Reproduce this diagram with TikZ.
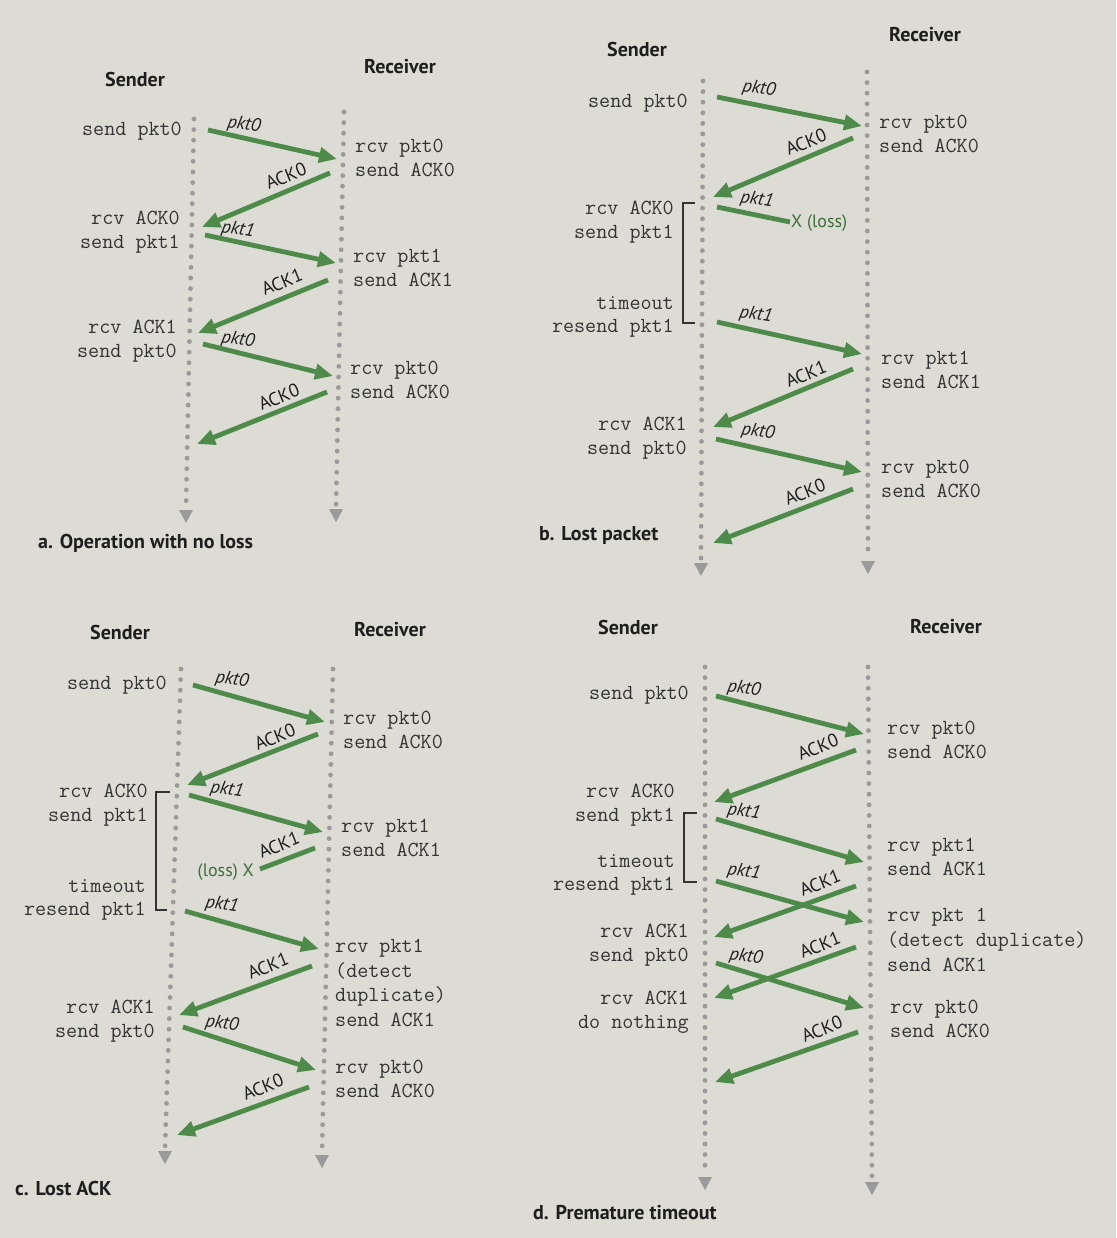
\documentclass[tikz,border=0pt]{standalone}
\usepackage{fontspec}
\newfontfamily\ptsans{PT Sans}
\usetikzlibrary{arrows.meta,calc}
\definecolor{paper}{HTML}{DCDBD4}
\definecolor{msggreen}{HTML}{4E8B4A}
\definecolor{dotgray}{HTML}{9A9A9A}
\definecolor{ink}{HTML}{333333}
\definecolor{darkink}{HTML}{1E1E1E}
\tikzset{
  life/.style={draw=dotgray,line width=4.8pt,line cap=round,dash pattern=on 0pt off 10.6pt},
  msg/.style={draw=msggreen,line width=4.8pt,-{Triangle[length=18pt,width=15pt]}},
  lostmsg/.style={draw=msggreen,line width=4.8pt},
  mono/.style={font=\ttfamily\fontsize{21.5}{23.5}\selectfont,text=ink,inner sep=0pt},
  snd/.style={mono,anchor=east,align=right},
  rcv/.style={mono,anchor=west,align=left},
  hdr/.style={font=\ptsans\bfseries\fontsize{20}{22}\selectfont,text=darkink},
  plab/.style={font=\ptsans\itshape\fontsize{18.5}{20}\selectfont,text=darkink,rotate=-9,inner sep=0pt},
  alab/.style={font=\ptsans\fontsize{18.5}{20}\selectfont,text=darkink,rotate=22,inner sep=0pt},
  losslab/.style={font=\ptsans\fontsize{18}{20}\selectfont,text=msggreen!80!black,inner sep=0pt},
  capt/.style={font=\ptsans\bfseries\fontsize{20}{22}\selectfont,text=darkink,anchor=west,inner sep=0pt},
  brk/.style={draw=ink,line width=1.1pt},
}
% dotted time line from a top point down to an arrow tip
\newcommand\lifeln[2]{%
  \draw[life] (#1) -- ($(#2)+(0,-16)$);
  \fill[dotgray] ($(#2)+(-7,-13)$) -- ($(#2)+(7,-13)$) -- (#2) -- cycle;}
\begin{document}
\begin{tikzpicture}[x=1pt,y=-1pt]
\useasboundingbox (0,0) rectangle (1116,1238);
\fill[paper] (0,0) rectangle (1116,1238);

% ---------------- a. Operation with no loss ----------------
\node[hdr] (aS) at (135,80) {Sender};
\node[hdr] (aR) at (400,67) {Receiver};
\coordinate (aSt) at (194,119); \coordinate (aSb) at (186,523);
\coordinate (aRt) at (344,112); \coordinate (aRb) at (336,522);
\lifeln{aSt}{aSb}
\lifeln{aRt}{aRb}
\node[snd] (as1) at (182,131) {send pkt0};
\node[snd] (as2) at (180,232) {rcv ACK0\\send pkt1};
\node[snd] (as3) at (177,341) {rcv ACK1\\send pkt0};
\node[rcv] (ar1) at (355,158) {rcv pkt0\\send ACK0};
\node[rcv] (ar2) at (353,268) {rcv pkt1\\send ACK1};
\node[rcv] (ar3) at (350,380) {rcv pkt0\\send ACK0};
\coordinate (a1s) at (208,130); \coordinate (a1e) at (337,159);
\coordinate (a2s) at (330,173); \coordinate (a2e) at (202,227);
\coordinate (a3s) at (205,235); \coordinate (a3e) at (336,263);
\coordinate (a4s) at (328,280); \coordinate (a4e) at (198,333);
\coordinate (a5s) at (203,344); \coordinate (a5e) at (333,376);
\coordinate (a6s) at (327,392); \coordinate (a6e) at (197,444);
\draw[msg] (a1s) -- (a1e);
\draw[msg] (a2s) -- (a2e);
\draw[msg] (a3s) -- (a3e);
\draw[msg] (a4s) -- (a4e);
\draw[msg] (a5s) -- (a5e);
\draw[msg] (a6s) -- (a6e);
\node[plab] (al1) at (244,125) {pkt0};
\node[alab] (al2) at (286,176) {ACK0};
\node[plab] (al3) at (238,230) {pkt1};
\node[alab] (al4) at (282,282) {ACK1};
\node[plab] (al5) at (238,340) {pkt0};
\node[alab] (al6) at (279,397) {ACK0};
\node[capt] (acap) at (38,543) {a. Operation with no loss};

% ---------------- b. Lost packet ----------------
\node[hdr] (bS) at (637,50) {Sender};
\node[hdr] (bR) at (925,35) {Receiver};
\coordinate (bSt) at (703,81); \coordinate (bSb) at (701,576);
\coordinate (bRt) at (867,72); \coordinate (bRb) at (868,574);
\lifeln{bSt}{bSb}
\lifeln{bRt}{bRb}
\node[snd] (bs1) at (688,103) {send pkt0};
\node[snd] (bs2) at (674,222) {rcv ACK0\\send pkt1};
\node[snd] (bs3) at (674,317) {timeout\\resend pkt1};
\node[snd] (bs4) at (687,438) {rcv ACK1\\send pkt0};
\draw[brk] (695,203) -- (683,203) -- (683,323) -- (695,323);
\node[rcv] (br1) at (879,134) {rcv pkt0\\send ACK0};
\node[rcv] (br2) at (881,370) {rcv pkt1\\send ACK1};
\node[rcv] (br3) at (881,479) {rcv pkt0\\send ACK0};
\coordinate (b1s) at (717,97);  \coordinate (b1e) at (862,126);
\coordinate (b2s) at (853,138); \coordinate (b2e) at (713,197);
\coordinate (b3s) at (717,207); \coordinate (b3e) at (790,222);
\coordinate (b4s) at (717,322); \coordinate (b4e) at (862,354);
\coordinate (b5s) at (853,369); \coordinate (b5e) at (713,427);
\coordinate (b6s) at (716,439); \coordinate (b6e) at (862,472);
\coordinate (b7s) at (853,489); \coordinate (b7e) at (713,543);
\draw[msg] (b1s) -- (b1e);
\draw[msg] (b2s) -- (b2e);
\draw[lostmsg] (b3s) -- (b3e);
\draw[msg] (b4s) -- (b4e);
\draw[msg] (b5s) -- (b5e);
\draw[msg] (b6s) -- (b6e);
\draw[msg] (b7s) -- (b7e);
\node[plab] (bl1) at (759,89) {pkt0};
\node[alab] (bl2) at (806,142) {ACK0};
\node[plab] (bl3) at (757,200) {pkt1};
\node[losslab,anchor=west] (bx) at (791,223) {X (loss)};
\node[plab] (bl4) at (756,315) {pkt1};
\node[alab] (bl5) at (806,374) {ACK1};
\node[plab] (bl6) at (758,432) {pkt0};
\node[alab] (bl7) at (805,492) {ACK0};
\node[capt] (bcap) at (539,535) {b. Lost packet};

% ---------------- c. Lost ACK ----------------
\node[hdr] (cS) at (120,632) {Sender};
\node[hdr] (cR) at (390,630) {Receiver};
\coordinate (cSt) at (181,669); \coordinate (cSb) at (165,1164);
\coordinate (cRt) at (333,669); \coordinate (cRb) at (322,1168);
\lifeln{cSt}{cSb}
\lifeln{cRt}{cRb}
\node[snd] (cs1) at (167,685) {send pkt0};
\node[snd] (cs2) at (148,805) {rcv ACK0\\send pkt1};
\node[snd] (cs3) at (146,900) {timeout\\resend pkt1};
\node[snd] (cs4) at (155,1021) {rcv ACK1\\send pkt0};
\draw[brk] (170,792) -- (156,792) -- (156,910) -- (167,910);
\node[rcv] (cr1) at (343,730) {rcv pkt0\\send ACK0};
\node[rcv] (cr2) at (341,838) {rcv pkt1\\send ACK1};
\node[rcv,font=\ttfamily\fontsize{21.5}{24.4}\selectfont] (cr3) at (335,983) {rcv pkt1\\(detect\\duplicate)\\send ACK1};
\node[rcv] (cr4) at (335,1079) {rcv pkt0\\send ACK0};
\coordinate (c1s) at (193,685);  \coordinate (c1e) at (325,722);
\coordinate (c2s) at (318,734);  \coordinate (c2e) at (187,785);
\coordinate (c3s) at (189,795);  \coordinate (c3e) at (323,832);
\coordinate (c4s) at (315,848);  \coordinate (c4e) at (260,869);
\coordinate (c5s) at (185,911);  \coordinate (c5e) at (319,949);
\coordinate (c6s) at (312,966);  \coordinate (c6e) at (179,1015);
\coordinate (c7s) at (183,1027); \coordinate (c7e) at (316,1070);
\coordinate (c8s) at (309,1087); \coordinate (c8e) at (177,1135);
\draw[msg] (c1s) -- (c1e);
\draw[msg] (c2s) -- (c2e);
\draw[msg] (c3s) -- (c3e);
\draw[lostmsg] (c4s) -- (c4e);
\draw[msg] (c5s) -- (c5e);
\draw[msg] (c6s) -- (c6e);
\draw[msg] (c7s) -- (c7e);
\draw[msg] (c8s) -- (c8e);
\node[plab] (cl1) at (232,680) {pkt0};
\node[alab] (cl2) at (275,737) {ACK0};
\node[plab] (cl3) at (227,790) {pkt1};
\node[alab] (cl4) at (279,845) {ACK1};
\node[losslab,anchor=east] (cx) at (254,872) {(loss) X};
\node[plab] (cl5) at (222,905) {pkt1};
\node[alab] (cl6) at (268,966) {ACK1};
\node[plab] (cl7) at (222,1024) {pkt0};
\node[alab] (cl8) at (263,1087) {ACK0};
\node[capt] (ccap) at (15,1188) {c. Lost ACK};

% ---------------- d. Premature timeout ----------------
\node[hdr] (dS) at (628,627) {Sender};
\node[hdr] (dR) at (946,627) {Receiver};
\coordinate (dSt) at (705,667); \coordinate (dSb) at (705,1190);
\coordinate (dRt) at (868,667); \coordinate (dRb) at (872,1195);
\lifeln{dSt}{dSb}
\lifeln{dRt}{dRb}
\node[snd] (ds1) at (689,695) {send pkt0};
\node[snd] (ds2) at (675,805) {rcv ACK0\\send pkt1};
\node[snd] (ds3) at (675,875) {timeout\\resend pkt1};
\node[snd] (ds4) at (689,945) {rcv ACK1\\send pkt0};
\node[snd] (ds5) at (689,1012) {rcv ACK1\\do nothing};
\draw[brk] (697,813) -- (684,813) -- (684,882) -- (697,882);
\node[rcv] (dr1) at (887,740) {rcv pkt0\\send ACK0};
\node[rcv] (dr2) at (887,857) {rcv pkt1\\send ACK1};
\node[rcv,font=\ttfamily\fontsize{21.5}{25}\selectfont] (dr3) at (887,940) {rcv pkt 1\\(detect duplicate)\\send ACK1};
\node[rcv] (dr4) at (890,1019) {rcv pkt0\\send ACK0};
\coordinate (d1s) at (716,696);  \coordinate (d1e) at (864,734);
\coordinate (d2s) at (856,750);  \coordinate (d2e) at (714,802);
\coordinate (d3s) at (716,819);  \coordinate (d3e) at (864,862);
\coordinate (d4s) at (716,881);  \coordinate (d4e) at (864,922);
\coordinate (d5s) at (856,886);  \coordinate (d5e) at (714,937);
\coordinate (d6s) at (716,963);  \coordinate (d6e) at (864,1008);
\coordinate (d7s) at (856,947);  \coordinate (d7e) at (714,998);
\coordinate (d8s) at (858,1032); \coordinate (d8e) at (715,1082);
\draw[msg] (d1s) -- (d1e);
\draw[msg] (d2s) -- (d2e);
\draw[msg] (d3s) -- (d3e);
\draw[msg] (d4s) -- (d4e);
\draw[msg] (d5s) -- (d5e);
\draw[msg] (d6s) -- (d6e);
\draw[msg] (d7s) -- (d7e);
\draw[msg] (d8s) -- (d8e);
\node[plab] (dl1) at (744,689) {pkt0};
\node[alab] (dl2) at (818,747) {ACK0};
\node[plab] (dl3) at (744,812) {pkt1};
\node[plab] (dl4) at (744,872) {pkt1};
\node[alab] (dl5) at (820,883) {ACK1};
\node[plab] (dl6) at (746,957) {pkt0};
\node[alab] (dl7) at (820,945) {ACK1};
\node[alab] (dl8) at (822,1029) {ACK0};
\node[capt] (dcap) at (533,1213) {d. Premature timeout};
\end{tikzpicture}
\end{document}
